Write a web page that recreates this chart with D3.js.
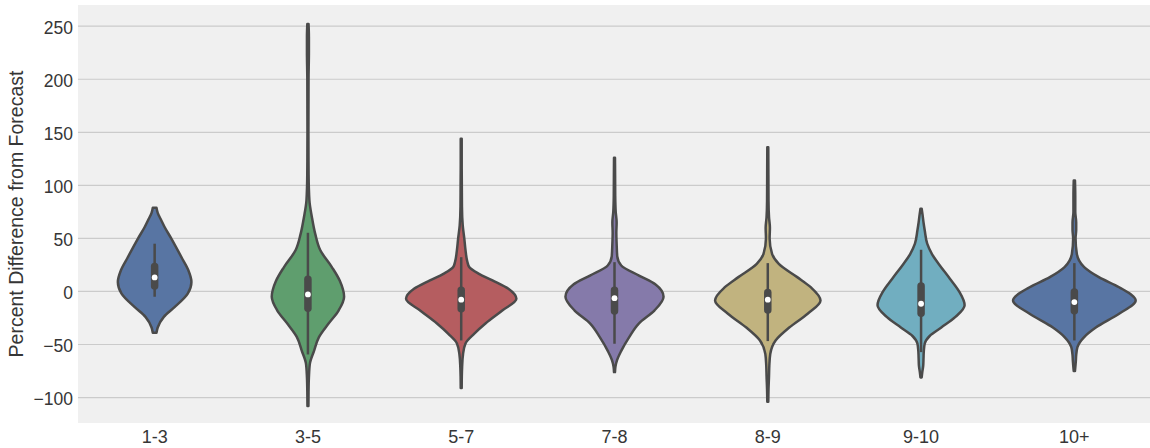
<!DOCTYPE html>
<html>
<head>
<meta charset="utf-8">
<script src="https://cdn.jsdelivr.net/npm/d3@7"></script>
<style>
  html, body { margin: 0; padding: 0; background: #ffffff; }
  svg { display: block; }
  .tick-label { font-family: "Liberation Sans", Arial, sans-serif; fill: #363636; }
</style>
</head>
<body>
<svg id="chart" width="1150" height="448"></svg>
<script>
// --- DATA ---
const categories = ["1-3", "3-5", "5-7", "7-8", "8-9", "9-10", "10+"];
const fillColors = ["#5875a3", "#5f9e6e", "#b55d60", "#857aaa", "#c1b37f", "#71aec0", "#5875a3"];
const yTicks = [-100, -50, 0, 50, 100, 150, 200, 250];

// violin outline: values (percent) and relative density (1 = widest violin)
const kdeValues = [
    [79, 74, 68, 61, 50, 32, 20, 9, -2, -15, -24, -34, -39],
    [252, 240, 225, 200, 150, 110, 86, 70, 54, 39, 23, 10, -5, -18, -30, -43, -56, -68, -81, -95, -108],
    [144, 120, 100, 80, 62, 50, 39, 28, 23, 16.6, 10.4, 2.5, -7, -18, -30, -40, -49, -59, -71, -80, -91],
    [126, 110, 90, 75, 65, 55, 45, 33, 24.5, 15, 6.5, -5, -18, -30, -43, -56, -65, -71, -76],
    [136, 110, 85, 70, 60, 50, 35.5, 26, 13.5, 4, -8.5, -21, -34, -46, -59, -70, -80, -92, -104],
    [78, 72, 65, 57.5, 45, 35, 25, 12, 0, -13, -24, -34, -42, -49, -56, -63, -70, -76, -81],
    [104.6, 90, 75, 65, 58, 50, 35.5, 23, 13.5, 4, -8.5, -21, -34, -43, -52.5, -60, -65, -75]
];
const kdeDensity = [
    [0.03, 0.05, 0.1, 0.16, 0.27, 0.44, 0.55, 0.6, 0.54, 0.32, 0.15, 0.05, 0.03],
    [0.01, 0.016, 0.016, 0.01, 0.008, 0.011, 0.024, 0.065, 0.12, 0.2, 0.39, 0.52, 0.59, 0.5, 0.34, 0.18, 0.1, 0.032, 0.016, 0.01, 0.008],
    [0.008, 0.008, 0.01, 0.012, 0.025, 0.05, 0.07, 0.1, 0.13, 0.29, 0.51, 0.77, 0.9, 0.67, 0.4, 0.21, 0.07, 0.03, 0.015, 0.01, 0.008],
    [0.008, 0.01, 0.012, 0.02, 0.035, 0.03, 0.035, 0.045, 0.11, 0.4, 0.67, 0.8, 0.65, 0.4, 0.24, 0.11, 0.04, 0.015, 0.008],
    [0.008, 0.01, 0.012, 0.02, 0.035, 0.03, 0.07, 0.18, 0.48, 0.7, 0.86, 0.65, 0.35, 0.13, 0.04, 0.025, 0.02, 0.012, 0.008],
    [0.01, 0.025, 0.04, 0.06, 0.1, 0.18, 0.3, 0.47, 0.62, 0.71, 0.56, 0.33, 0.14, 0.06, 0.045, 0.04, 0.035, 0.02, 0.01],
    [0.01, 0.015, 0.015, 0.03, 0.03, 0.02, 0.04, 0.16, 0.4, 0.73, 1.0, 0.73, 0.35, 0.16, 0.05, 0.03, 0.025, 0.01]
];

// inner box: whiskers, quartiles, median
const whiskerHigh = [45, 55.3, 32.3, 27.6, 26.7, 39.3, 26.7];
const q3 = [23.4, 11.5, 1.1, 1.1, -1.1, 5.2, -0.5];
const medians = [13.2, -2.8, -7.8, -6.3, -7.8, -11.6, -10];
const q1 = [5.2, -15.9, -16.2, -18.4, -17.4, -20.6, -18.1];
const whiskerLow = [-5, -59.4, -46.2, -49.3, -46.8, -57.2, -46.2];

// --- CHART ---
const width = 1150, height = 448;
const margin = { top: 5, right: -1, bottom: 25, left: 78 };
const lineColor = "#4a4a4a";

const svg = d3.select("#chart");

const x = d3.scaleBand()
    .domain(categories)
    .range([margin.left, width - margin.right])
    .padding(0);

const y = d3.scaleLinear()
    .domain([-124, 270])
    .range([height - margin.bottom, margin.top]);

const w = d3.scaleLinear()
    .domain([0, 1])
    .range([0, x.bandwidth() * 0.4]);

// plot background
svg.append("rect")
    .attr("x", margin.left).attr("y", margin.top)
    .attr("width", width - margin.left - margin.right)
    .attr("height", height - margin.top - margin.bottom)
    .attr("fill", "#f0f0f0");

// horizontal grid
svg.append("g").selectAll("line")
    .data(yTicks).enter().append("line")
    .attr("x1", margin.left).attr("x2", width - margin.right)
    .attr("y1", d => y(d)).attr("y2", d => y(d))
    .attr("stroke", "#cbcbcb").attr("stroke-width", 1.2);

// y tick labels
svg.append("g").selectAll("text")
    .data(yTicks).enter().append("text")
    .attr("class", "tick-label")
    .attr("x", margin.left - 5)
    .attr("y", d => y(d) + 1.5)
    .attr("text-anchor", "end")
    .attr("dominant-baseline", "central")
    .style("font-size", "17.5px")
    .text(d => d < 0 ? "\u2212" + Math.abs(d) : d);

// x tick labels
svg.append("g").selectAll("text")
    .data(categories).enter().append("text")
    .attr("class", "tick-label")
    .attr("x", d => x(d) + x.bandwidth() / 2)
    .attr("y", height - margin.bottom + 19.5)
    .attr("text-anchor", "middle")
    .style("font-size", "18px")
    .text(d => d);

// y axis label
svg.append("text")
    .attr("class", "tick-label")
    .attr("transform", `translate(23, ${(margin.top + height - margin.bottom) / 2}) rotate(-90)`)
    .attr("text-anchor", "middle")
    .style("font-size", "19.5px")
    .text("Percent Difference from Forecast");

// violins
const violins = svg.append("g").selectAll("g")
    .data(categories).enter().append("g")
    .attr("transform", d => `translate(${x(d) + x.bandwidth() / 2}, 0)`);

violins.each(function(cat, i) {
    const g = d3.select(this);
    const pts = kdeValues[i].map((v, j) => ({ v: v, d: kdeDensity[i][j] }));

    const area = d3.area()
        .y(p => y(p.v))
        .x0(p => -w(p.d))
        .x1(p => w(p.d))
        .curve(d3.curveMonotoneY);

    g.append("path")
        .attr("d", area(pts))
        .attr("fill", fillColors[i])
        .attr("stroke", lineColor)
        .attr("stroke-width", 2.5)
        .attr("stroke-linejoin", "round");

    // whisker
    g.append("line")
        .attr("x1", 0).attr("x2", 0)
        .attr("y1", y(whiskerHigh[i])).attr("y2", y(whiskerLow[i]))
        .attr("stroke", lineColor).attr("stroke-width", 2.5);

    // interquartile box
    g.append("line")
        .attr("x1", 0).attr("x2", 0)
        .attr("y1", y(q3[i])).attr("y2", y(q1[i]))
        .attr("stroke", lineColor).attr("stroke-width", 7.5)
        .attr("stroke-linecap", "round");

    // median
    g.append("circle")
        .attr("cx", 0).attr("cy", y(medians[i]))
        .attr("r", 2.9)
        .attr("fill", "#ffffff");
});
</script>
</body>
</html>
